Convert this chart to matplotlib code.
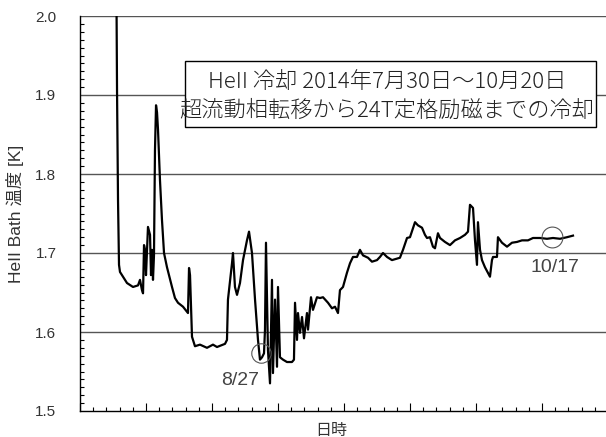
import matplotlib
matplotlib.use("Agg")
import matplotlib.pyplot as plt
from matplotlib.patches import Rectangle
from matplotlib.ticker import MultipleLocator

plt.rcParams['font.family'] = ['Liberation Sans', 'Noto Sans CJK JP']

# Elapsed time (days from start of record) and HeII bath temperature [K]
t_days = [5.53, 5.61, 5.76, 5.91, 6.06, 6.52, 7.12, 8.03, 8.79, 9.09,
          9.39, 9.55, 9.70, 9.85, 10.00, 10.30, 10.61, 10.76, 10.91, 11.06,
          11.21, 11.36, 11.52, 11.67, 11.82, 12.12, 12.42, 12.73, 13.18, 13.94,
          14.39, 14.85, 15.61, 16.36, 16.52, 16.67, 16.97, 17.42, 18.18, 19.24,
          20.15, 20.76, 21.97, 22.27, 22.42, 23.03, 23.18, 23.48, 23.79, 24.24,
          24.70, 25.30, 25.61, 26.06, 26.52, 26.97, 27.27, 27.58, 27.88, 28.03,
          28.18, 28.33, 28.48, 28.79, 28.94, 29.09, 29.24, 29.55, 29.85, 30.00,
          30.30, 30.76, 31.36, 32.12, 32.42, 32.58, 32.88, 33.03, 33.33, 33.64,
          33.94, 34.39, 34.55, 35.00, 35.30, 35.91, 36.36, 36.82, 37.58, 38.18,
          38.64, 39.09, 39.39, 39.85, 40.45, 40.91, 41.36, 41.97, 42.42, 42.88,
          43.64, 44.24, 45.00, 45.45, 45.91, 46.52, 47.27, 48.48, 48.94, 49.55,
          50.00, 50.76, 51.21, 51.82, 52.27, 52.58, 53.03, 53.48, 53.79, 54.24,
          54.55, 55.30, 56.06, 56.82, 57.58, 58.33, 58.79, 59.09, 59.55, 59.85,
          60.15, 60.30, 60.61, 60.91, 61.36, 62.12, 62.42, 62.58, 63.18, 63.33,
          63.94, 64.70, 65.45, 66.21, 66.97, 67.88, 68.64, 69.70, 70.76, 71.67,
          72.73, 73.79, 74.70]
temp_K = [2.020, 1.906, 1.767, 1.685, 1.676, 1.670, 1.662, 1.657, 1.659, 1.666,
          1.653, 1.649, 1.710, 1.704, 1.672, 1.733, 1.723, 1.672, 1.704, 1.666,
          1.697, 1.830, 1.887, 1.878, 1.856, 1.792, 1.742, 1.700, 1.682, 1.657,
          1.643, 1.637, 1.632, 1.624, 1.681, 1.672, 1.594, 1.582, 1.584, 1.580,
          1.584, 1.581, 1.585, 1.590, 1.641, 1.687, 1.700, 1.657, 1.647, 1.662,
          1.691, 1.716, 1.727, 1.700, 1.641, 1.590, 1.565, 1.568, 1.573, 1.603,
          1.713, 1.641, 1.577, 1.535, 1.603, 1.666, 1.548, 1.641, 1.556, 1.657,
          1.568, 1.565, 1.562, 1.562, 1.565, 1.637, 1.590, 1.624, 1.599, 1.619,
          1.592, 1.624, 1.603, 1.644, 1.628, 1.644, 1.643, 1.644, 1.637, 1.630,
          1.632, 1.624, 1.653, 1.657, 1.675, 1.687, 1.695, 1.695, 1.704, 1.697,
          1.694, 1.689, 1.691, 1.695, 1.700, 1.695, 1.691, 1.694, 1.704, 1.719,
          1.720, 1.739, 1.735, 1.732, 1.723, 1.719, 1.720, 1.708, 1.706, 1.725,
          1.719, 1.714, 1.710, 1.716, 1.719, 1.723, 1.727, 1.761, 1.757, 1.716,
          1.685, 1.739, 1.704, 1.691, 1.682, 1.670, 1.691, 1.695, 1.695, 1.720,
          1.713, 1.708, 1.713, 1.714, 1.716, 1.716, 1.719, 1.719, 1.718, 1.719,
          1.718, 1.720, 1.722]

# Marked points and their date labels
mark_labels = ['8/27', '10/17']
mark_t = [27.42, 71.52]
mark_T = [1.573, 1.720]
mark_text_t = [24.24, 71.97]
mark_text_T = [1.539, 1.682]

y_ticks = [1.5, 1.6, 1.7, 1.8, 1.9, 2.0]
y_ticklabels = ['1.5', '1.6', '1.7', '1.8', '1.9', '2.0']

title_lines = ['HeII 冷却 2014年7月30日～10月20日',
               '超流動相転移から24T定格励磁までの冷却']

W, H = 606, 437
fig = plt.figure(figsize=(W / 100, H / 100), dpi=100)
ax = fig.add_axes([80 / W, 1 - 411 / H, 526 / W, 395 / H])

ax.set_xlim(0, 79.7)
ax.set_ylim(1.5, 2.0)

# grid lines at every 0.1 K
for yv in y_ticks[1:]:
    ax.axhline(yv, color='#555555', lw=1.0, zorder=1)

ax.plot(t_days, temp_K, color='black', lw=1.6, zorder=3, clip_on=True)

for lab, tx, ty, lx, ly, ms in zip(mark_labels, mark_t, mark_T,
                                   mark_text_t, mark_text_T, [14, 15]):
    ax.plot([tx], [ty], marker='o', ms=ms, mfc='none', mec='#555555',
            mew=0.8, zorder=4, clip_on=False)
    ax.text(lx, ly, lab, ha='center', va='center', fontsize=14,
            color='#444444', zorder=5)

ax.set_yticks(y_ticks)
ax.set_yticklabels(y_ticklabels)
ax.yaxis.set_minor_locator(MultipleLocator(0.01))
ax.xaxis.set_major_locator(MultipleLocator(10))
ax.xaxis.set_minor_locator(MultipleLocator(2))
ax.set_xticklabels([])

ax.tick_params(axis='y', which='major', direction='in', length=0, pad=17,
               labelsize=11, labelcolor='#333333')
ax.tick_params(axis='y', which='minor', direction='in', length=3, width=0.8)
ax.tick_params(axis='x', which='major', direction='in', length=6, width=0.8)
ax.tick_params(axis='x', which='minor', direction='in', length=3, width=0.8)

for s in ['top', 'right']:
    ax.spines[s].set_visible(False)
ax.spines['left'].set_linewidth(1.0)
ax.spines['bottom'].set_linewidth(1.0)

ax.set_ylabel('HeII Bath 温度 [K]', fontsize=12.5, color='#333333',
              va='center')
ax.yaxis.set_label_coords((15 - 80) / 526, 0.5)
ax.set_xlabel('日時', fontsize=11.5, color='#333333', va='center')
ax.xaxis.set_label_coords((331 - 80) / 526, -(430 - 411) / 395)

# title box
box = Rectangle((185 / W, 1 - 127 / H), (596 - 185) / W, (127 - 61) / H,
                transform=fig.transFigure, facecolor='white',
                edgecolor='black', lw=1.0, zorder=10)
fig.add_artist(box)
for line, py in zip(title_lines, [82, 111]):
    fig.text(387 / W, 1 - py / H, line, ha='center', va='center',
             fontsize=16, color='#222222', zorder=11, fontweight='light',
             family=['Noto Sans CJK JP', 'DejaVu Sans'])

fig.savefig('out.png', dpi=100)
